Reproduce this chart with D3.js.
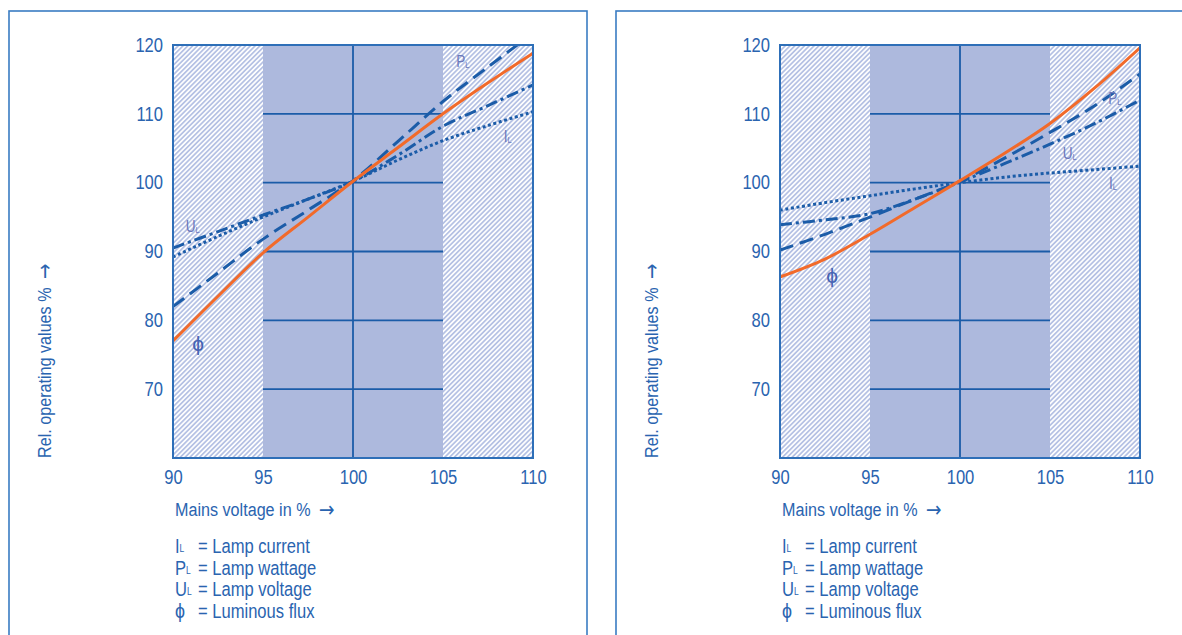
<!DOCTYPE html>
<html>
<head>
<meta charset="utf-8">
<script src="https://cdn.jsdelivr.net/npm/d3@7"></script>
<style>
  body { margin: 0; background: #fff; }
  svg text { font-family: "Liberation Sans Narrow", "Arial Narrow", "Liberation Sans", sans-serif; }
</style>
</head>
<body>
<script>
// Mains voltage (%) at which the curves were read.
const voltage = [90, 92.5, 95, 97.5, 100, 102.5, 105, 107.5, 110];
const xTicks = [90, 95, 100, 105, 110];
const yTicks = [70, 80, 90, 100, 110, 120];
const gridY = [70, 80, 90, 100, 110];

// Left chart, relative operating values %.
const leftCurrent = [89.2, 92.2, 95.0, 97.6, 100.2, 103.3, 106.1, 108.3, 110.3];
const leftWattage = [82.0, 86.9, 91.8, 96.0, 100.3, 106.0, 111.8, 116.8, 121.7];
const leftVoltage = [90.5, 92.9, 95.3, 97.6, 100.2, 104.0, 108.2, 111.2, 114.2];
const leftFlux    = [77.0, 83.5, 89.8, 95.0, 100.2, 105.1, 110.0, 114.5, 118.8];

// Right chart, relative operating values %.
const rightCurrent = [96.0, 97.1, 98.1, 99.1, 100.0, 100.8, 101.4, 101.9, 102.4];
const rightWattage = [90.2, 92.5, 95.0, 97.6, 100.2, 103.6, 107.3, 111.2, 115.8];
const rightVoltage = [93.9, 94.6, 95.5, 97.6, 100.1, 102.8, 105.6, 108.6, 112.0];
const rightFlux    = [86.3, 88.9, 92.5, 96.4, 100.3, 104.3, 108.6, 113.8, 119.6];

// Curve labels inside the plots: [voltage, value]
const leftLabels  = { P: [106.1, 117.4], I: [108.6, 106.5], U: [91.1, 93.4], phi: [91.4, 76.4] };
const rightLabels = { P: [108.6, 112.0], I: [108.5, 99.7], U: [106.1, 104.0], phi: [92.9, 86.3] };

const legendRows = [["I", "= Lamp current"], ["P", "= Lamp wattage"], ["U", "= Lamp voltage"], ["ϕ", "= Luminous flux"]];

const W = 1182, H = 635;
const BLUE = "#2a64b0", LINE = "#1b5ca8", ORANGE = "#f26a2a", BAND = "#adb9dd";
const PW = 360, PH = 413, PTOP = 45;
const NARROW = 0.85;

const svg = d3.select("body").append("svg").attr("width", W).attr("height", H);
const defs = svg.append("defs");

defs.append("pattern")
    .attr("id", "hatch").attr("patternUnits", "userSpaceOnUse")
    .attr("width", 3.4).attr("height", 3.4)
    .attr("patternTransform", "rotate(45)")
  .call(p => {
    p.append("rect").attr("width", 3.4).attr("height", 3.4).attr("fill", "#fff");
    p.append("line").attr("x1", 0.9).attr("x2", 0.9).attr("y1", 0).attr("y2", 3.4)
     .attr("stroke", "#b3bfe3").attr("stroke-width", 1.7);
  });

const panels = [
  { ox: 9, current: leftCurrent, wattage: leftWattage, volt: leftVoltage, flux: leftFlux, labels: leftLabels },
  { ox: 616, current: rightCurrent, wattage: rightWattage, volt: rightVoltage, flux: rightFlux, labels: rightLabels }
];

const x = d3.scaleLinear().domain([90, 110]).range([0, PW]);
const y = d3.scaleLinear().domain([60, 120]).range([PH, 0]);

// condensed text placed at (tx, ty)
function narrowText(parent, tx, ty, extra) {
  return parent.append("g").attr("transform", `translate(${tx},${ty}) ${extra || ""} scale(${NARROW},1)`)
    .append("text");
}

function subLabel(g, base, px, py, size) {
  const t = narrowText(g, px, py).attr("fill", "#6b78bb")
      .attr("font-size", size).attr("text-anchor", "middle").attr("dominant-baseline", "middle");
  t.append("tspan").text(base);
  t.append("tspan").attr("font-size", size * 0.55).attr("dy", 3).text("L");
}

function arrowLabel(t, label) {
  t.append("tspan").text(label);
  t.append("tspan").attr("dx", 10).attr("dy", 1).attr("font-family", "DejaVu Sans").attr("font-size", 22).text("→");
}

panels.forEach((p, i) => {
  svg.append("rect").attr("x", p.ox).attr("y", 11).attr("width", 578).attr("height", 700)
     .attr("fill", "none").attr("stroke", "#3a7cc2").attr("stroke-width", 1.6);

  const px = p.ox + 164;
  const g = svg.append("g").attr("transform", `translate(${px},${PTOP})`);

  defs.append("clipPath").attr("id", "clip" + i)
    .append("rect").attr("width", PW).attr("height", PH);

  // hatched tolerance zones and central band
  g.append("rect").attr("width", PW).attr("height", PH).attr("fill", "url(#hatch)");
  g.append("rect").attr("x", x(95)).attr("width", x(105) - x(95)).attr("height", PH).attr("fill", BAND);

  // grid inside the band
  g.selectAll(".gy").data(gridY).enter().append("line")
    .attr("x1", x(95)).attr("x2", x(105)).attr("y1", d => y(d)).attr("y2", d => y(d))
    .attr("stroke", LINE).attr("stroke-width", 1.8);
  g.append("line").attr("x1", x(100)).attr("x2", x(100)).attr("y1", 0).attr("y2", PH)
    .attr("stroke", LINE).attr("stroke-width", 1.8);

  // curves
  const line = d3.line().x((d, k) => x(voltage[k])).y(d => y(d)).curve(d3.curveCatmullRom);
  const curves = g.append("g").attr("clip-path", `url(#clip${i})`);
  curves.append("path").attr("d", line(p.current)).attr("fill", "none")
    .attr("stroke", LINE).attr("stroke-width", 3).attr("stroke-dasharray", "3,2.6");
  curves.append("path").attr("d", line(p.volt)).attr("fill", "none")
    .attr("stroke", LINE).attr("stroke-width", 3).attr("stroke-dasharray", "12,4,3,4");
  curves.append("path").attr("d", line(p.wattage)).attr("fill", "none")
    .attr("stroke", LINE).attr("stroke-width", 3).attr("stroke-dasharray", "14,7");
  curves.append("path").attr("d", line(p.flux)).attr("fill", "none")
    .attr("stroke", ORANGE).attr("stroke-width", 3);

  g.append("rect").attr("width", PW).attr("height", PH)
    .attr("fill", "none").attr("stroke", "#2e6fb8").attr("stroke-width", 2);

  // curve labels
  subLabel(g, "P", x(p.labels.P[0]), y(p.labels.P[1]), 16);
  subLabel(g, "I", x(p.labels.I[0]), y(p.labels.I[1]), 16);
  subLabel(g, "U", x(p.labels.U[0]), y(p.labels.U[1]), 16);
  g.append("text").attr("x", x(p.labels.phi[0])).attr("y", y(p.labels.phi[1]))
    .attr("fill", "#4563b3").attr("font-size", 21).attr("text-anchor", "middle")
    .attr("dominant-baseline", "middle").text("ϕ");

  // axes
  const ya = g.append("g").call(d3.axisLeft(y).tickValues(yTicks).tickSize(0).tickPadding(10));
  const xa = g.append("g").attr("transform", `translate(0,${PH})`)
    .call(d3.axisBottom(x).tickValues(xTicks).tickSize(0).tickPadding(12));
  [ya, xa].forEach(a => {
    a.select(".domain").remove();
    a.selectAll("text").attr("fill", BLUE).attr("font-size", 19.5)
      .attr("transform", `scale(${NARROW},1)`)
      .style("font-family", '"Liberation Sans Narrow", "Arial Narrow", "Liberation Sans", sans-serif');
  });
  ya.selectAll("text").attr("x", -10 / NARROW);

  arrowLabel(narrowText(g, 2, 516 - PTOP).attr("fill", BLUE).attr("font-size", 19), "Mains voltage in %");
  arrowLabel(narrowText(g, -122, PH, "rotate(-90)").attr("fill", BLUE).attr("font-size", 19), "Rel. operating values %");

  // legend
  legendRows.forEach((r, k) => {
    const ly = 553 - PTOP + k * 21.7;
    const t = narrowText(g, 2, ly).attr("fill", BLUE).attr("font-size", 19.5);
    if (r[0] === "ϕ") {
      t.append("tspan").attr("font-size", 21).text(r[0]);
    } else {
      t.append("tspan").text(r[0]);
      t.append("tspan").attr("font-size", 10).attr("dy", -1).text("L");
    }
    narrowText(g, 25, ly).attr("fill", BLUE).attr("font-size", 19.5).text(r[1]);
  });
});
</script>
</body>
</html>
